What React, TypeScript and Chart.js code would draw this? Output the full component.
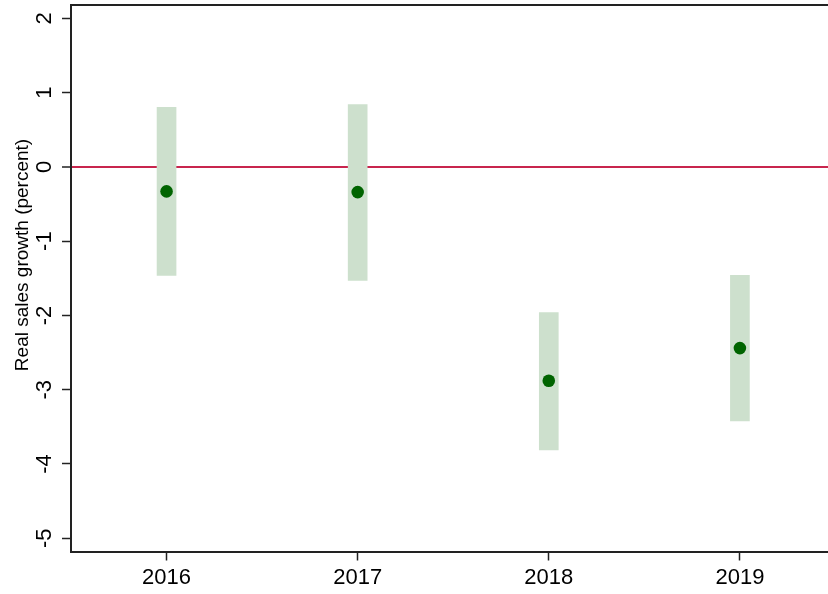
import React, { useEffect, useRef } from 'react';
import { Chart, registerables } from 'chart.js';

Chart.register(...registerables);

const years = [2016, 2017, 2018, 2019];
const estimates = [-0.33, -0.34, -2.88, -2.44];
const upper = [0.8, 0.84, -1.96, -1.46];
const lower = [-1.46, -1.53, -3.81, -3.42];
const yTicks = [-5, -4, -3, -2, -1, 0, 1, 2];
const yTitle = 'Real sales growth (percent)';

const FONT = '"Liberation Sans", Arial, Helvetica, sans-serif';
const AXIS_COLOR = '#222222';
const ZERO_COLOR = '#c8254d';
const BAND_COLOR = '#cde0cd';
const POINT_COLOR = '#006400';

const framePlugin = {
  id: 'frameAndTitle',
  beforeDatasetsDraw(chart: any) {
    const { ctx, chartArea } = chart;
    ctx.save();
    ctx.strokeStyle = AXIS_COLOR;
    ctx.lineWidth = 2;
    ctx.beginPath();
    ctx.moveTo(chartArea.left, chartArea.top);
    ctx.lineTo(chartArea.right, chartArea.top);
    ctx.stroke();
    ctx.restore();
  },
  afterDraw(chart: any) {
    const { ctx } = chart;
    ctx.save();
    ctx.translate(23, 255);
    ctx.rotate(-Math.PI / 2);
    ctx.font = `19px ${FONT}`;
    ctx.fillStyle = '#000';
    ctx.textAlign = 'center';
    ctx.textBaseline = 'middle';
    ctx.fillText(yTitle, 0, 0);
    ctx.restore();
  },
};

export default function App() {
  const canvasRef = useRef<HTMLCanvasElement | null>(null);

  useEffect(() => {
    const canvas = canvasRef.current;
    if (!canvas) return;
    const chart = new Chart(canvas, {
      type: 'bar',
      data: {
        datasets: [
          {
            type: 'scatter',
            label: 'Estimate',
            data: years.map((x, i) => ({ x, y: estimates[i] })),
            backgroundColor: POINT_COLOR,
            borderWidth: 0,
            pointRadius: 6.3,
            order: 1,
          } as any,
          {
            type: 'bar',
            label: 'Confidence interval',
            data: years.map((x, i) => ({ x, y: [lower[i], upper[i]] })),
            backgroundColor: BAND_COLOR,
            borderWidth: 0,
            barThickness: 19,
            order: 2,
          } as any,
        ],
      },
      options: {
        responsive: false,
        animation: false,
        layout: { autoPadding: false, padding: { top: 5, left: 0, right: 0, bottom: 0 } },
        plugins: {
          legend: { display: false },
          tooltip: { enabled: false },
        },
        scales: {
          x: {
            type: 'linear',
            min: 2015.5,
            max: 2019.461,
            offset: false,
            afterBuildTicks: (scale: any) => {
              scale.ticks = years.map((v) => ({ value: v }));
            },
            afterFit: (scale: any) => {
              scale.height = 42.5;
              scale.paddingLeft = 0;
              scale.paddingRight = 0;
            },
            ticks: {
              callback: (v: any) => String(v),
              font: { family: FONT, size: 22 },
              color: '#000',
              padding: 4,
              maxRotation: 0,
              minRotation: 0,
              autoSkip: false,
            },
            grid: {
              offset: false,
              drawOnChartArea: false,
              drawTicks: true,
              tickLength: 9,
              tickColor: AXIS_COLOR,
              tickWidth: 1.5,
            },
            border: { display: true, color: AXIS_COLOR, width: 2 },
          },
          y: {
            type: 'linear',
            min: -5.178,
            max: 2.179,
            afterBuildTicks: (scale: any) => {
              scale.ticks = yTicks.map((v) => ({ value: v }));
            },
            afterFit: (scale: any) => {
              scale.width = 71;
              scale.paddingTop = 0;
              scale.paddingBottom = 0;
            },
            ticks: {
              callback: (v: any) => String(v),
              font: { family: FONT, size: 22 },
              color: '#000',
              padding: 7,
              minRotation: 90,
              maxRotation: 90,
              crossAlign: 'center',
              autoSkip: false,
            },
            grid: {
              drawOnChartArea: true,
              drawTicks: true,
              tickLength: 9,
              color: (ctx: any) =>
                ctx.tick && ctx.tick.value === 0 ? ZERO_COLOR : 'rgba(0,0,0,0)',
              lineWidth: (ctx: any) => (ctx.tick && ctx.tick.value === 0 ? 2 : 1),
              tickColor: AXIS_COLOR,
              tickWidth: 1.5,
            },
            border: { display: true, color: AXIS_COLOR, width: 2 },
          },
        },
      },
      plugins: [framePlugin],
    } as any);
    return () => chart.destroy();
  }, []);

  return (
    <div style={{ position: 'fixed', left: 0, top: 0, width: 828, height: 594, background: '#fff' }}>
      <canvas ref={canvasRef} width={828} height={594} />
    </div>
  );
}
